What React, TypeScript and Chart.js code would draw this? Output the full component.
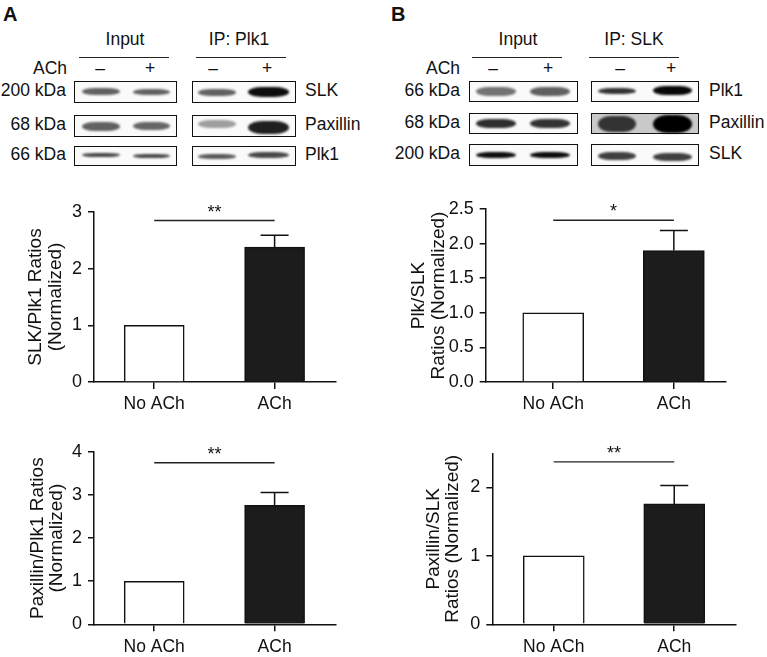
import React, { useEffect, useRef } from "react";
import { Chart, registerables } from "chart.js";

Chart.register(...registerables);

const FONT = "'Liberation Sans', Arial, Helvetica, sans-serif";
const INK = "#111";

// ---------------- data ----------------
const CATEGORIES = ["No ACh", "ACh"];

// A (top): SLK/Plk1
const A1_VALUES = [1, 2.38];
const A1_ERRORS = [0, 0.21];
const A1_TICKS = [0, 1, 2, 3];
const A1_SIG = 2.85;
const A1_STARS = "**";
const A1_TITLE = ["SLK/Plk1 Ratios", "(Normalized)"];

// A (bottom): Paxillin/Plk1
const A2_VALUES = [1, 2.76];
const A2_ERRORS = [0, 0.3];
const A2_TICKS = [0, 1, 2, 3, 4];
const A2_SIG = 3.75;
const A2_STARS = "**";
const A2_TITLE = ["Paxillin/Plk1 Ratios", "(Normalized)"];

// B (top): Plk/SLK
const B1_VALUES = [1, 1.9];
const B1_ERRORS = [0, 0.29];
const B1_TICKS = [0, 0.5, 1, 1.5, 2, 2.5];
const B1_SIG = 2.337;
const B1_STARS = "*";
const B1_TITLE = ["Plk/SLK", "Ratios (Normalized)"];

// B (bottom): Paxillin/SLK
const B2_VALUES = [1, 1.76];
const B2_ERRORS = [0, 0.27];
const B2_TICKS = [0, 1, 2];
const B2_SIG = 2.375;
const B2_STARS = "**";
const B2_TITLE = ["Paxillin/SLK", "Ratios (Normalized)"];

// Blots
const A_GROUPS = ["Input", "IP: Plk1"];
const A_SIGNS = ["–", "+", "–", "+"];
const A_MW = ["200 kDa", "68 kDa", "66 kDa"];
const A_PROTEINS = ["SLK", "Paxillin", "Plk1"];
const A_DARKNESS = [
  [0.62, 0.62, 0.62, 0.95],
  [0.62, 0.6, 0.38, 0.88],
  [0.72, 0.72, 0.66, 0.72],
];

const B_GROUPS = ["Input", "IP: SLK"];
const B_SIGNS = ["–", "+", "–", "+"];
const B_MW = ["66 kDa", "68 kDa", "200 kDa"];
const B_PROTEINS = ["Plk1", "Paxillin", "SLK"];
const B_DARKNESS = [
  [0.55, 0.62, 0.8, 0.97],
  [0.82, 0.8, 0.8, 1.0],
  [0.95, 0.95, 0.75, 0.75],
];

// ---------------- layout ----------------
type ChartSpec = {
  left: number; top: number; w: number; h: number;
  padTop: number; padRight: number; yAxisW: number; xAxisH: number;
  yMax: number; ticks: number[]; decimals: number;
  xMin: number; xMax: number; title: string[]; titlePad: number; barW: number;
  values: number[]; errors: number[]; sig: number; stars: string;
};

const CHARTS: ChartSpec[] = [
  { left: 0, top: 180, w: 380, h: 242, padTop: 32, padRight: 44, yAxisW: 94, xAxisH: 40,
    yMax: 3, ticks: A1_TICKS, decimals: 0, xMin: -0.5, xMax: 1.51, title: A1_TITLE, titlePad: 26, barW: 60,
    values: A1_VALUES, errors: A1_ERRORS, sig: A1_SIG, stars: A1_STARS },
  { left: 0, top: 425, w: 380, h: 231, padTop: 27, padRight: 44, yAxisW: 94, xAxisH: 31.7,
    yMax: 4, ticks: A2_TICKS, decimals: 0, xMin: -0.5, xMax: 1.51, title: A2_TITLE, titlePad: 27.3, barW: 60,
    values: A2_VALUES, errors: A2_ERRORS, sig: A2_SIG, stars: A2_STARS },
  { left: 385, top: 180, w: 382, h: 242, padTop: 29, padRight: 41.3, yAxisW: 100.7, xAxisH: 40,
    yMax: 2.5, ticks: B1_TICKS, decimals: 1, xMin: -0.56, xMax: 1.43, title: B1_TITLE, titlePad: 23.7, barW: 61,
    values: B1_VALUES, errors: B1_ERRORS, sig: B1_SIG, stars: B1_STARS },
  { left: 385, top: 425, w: 382, h: 231, padTop: 28.3, padRight: 31.3, yAxisW: 107.3, xAxisH: 31.7,
    yMax: 2.5, ticks: B2_TICKS, decimals: 0, xMin: -0.51, xMax: 1.51, title: B2_TITLE, titlePad: 38.3, barW: 61,
    values: B2_VALUES, errors: B2_ERRORS, sig: B2_SIG, stars: B2_STARS },
];

type BlotLayout = {
  letter: string; letterX: number;
  groupCenters: number[]; groupLines: [number, number][];
  achRight: number; signX: number[];
  boxes: [number, number][]; rows: [number, number][];
  lanes: [number, number][]; heights: number[][]; offsets: number[][];
  mwRight: number; protLeft: number;
  groups: string[]; signs: string[]; mw: string[]; proteins: string[]; dark: number[][];
  grayBox?: [number, number];
};

const BLOTS: BlotLayout[] = [
  {
    letter: "A", letterX: 3,
    groupCenters: [125, 239], groupLines: [[79, 169], [196, 286]],
    achRight: 67, signX: [100, 150, 213, 267],
    boxes: [[74, 177], [192, 296]],
    rows: [[81, 103], [115, 137], [146, 166]],
    lanes: [[82, 120], [133, 170], [198, 236], [248, 289]],
    heights: [[7, 6, 7, 10], [9, 8, 8, 13], [4, 4, 5, 6]],
    offsets: [[-1, 0, 0, 0], [0, 0, -2, 1], [-1, 0, 0, -1]],
    mwRight: 66, protLeft: 305,
    groups: A_GROUPS, signs: A_SIGNS, mw: A_MW, proteins: A_PROTEINS, dark: A_DARKNESS,
  },
  {
    letter: "B", letterX: 391,
    groupCenters: [518, 634], groupLines: [[472, 562], [589, 679]],
    achRight: 460, signX: [493, 548, 620, 671],
    boxes: [[469, 578], [591, 699]],
    rows: [[81, 102], [113, 134], [144, 166]],
    lanes: [[476, 516], [530, 570], [598, 636], [653, 692]],
    heights: [[9, 9, 6, 9], [9, 9, 16, 18], [6, 6, 8, 8]],
    offsets: [[0, 0, -1, -1], [0, 0, 0, 0], [0, 0, 1, 2]],
    mwRight: 460, protLeft: 709,
    groups: B_GROUPS, signs: B_SIGNS, mw: B_MW, proteins: B_PROTEINS, dark: B_DARKNESS,
    grayBox: [1, 1],
  },
];

// ---------------- plugin ----------------
const annotPlugin = {
  id: "annot",
  afterDatasetsDraw(chart: any, _args: any, opts: any) {
    const { ctx } = chart;
    const x = chart.scales.x;
    const y = chart.scales.y;
    const meta = chart.getDatasetMeta(0);
    ctx.save();
    ctx.strokeStyle = INK;
    ctx.lineWidth = 1.5;
    meta.data.forEach((bar: any, i: number) => {
      const e = opts.errors[i];
      if (!e) return;
      const v = opts.values[i];
      const yTop = y.getPixelForValue(v + e);
      const yB = y.getPixelForValue(v);
      ctx.beginPath();
      ctx.moveTo(bar.x, yB);
      ctx.lineTo(bar.x, yTop);
      ctx.moveTo(bar.x - 14, yTop);
      ctx.lineTo(bar.x + 14, yTop);
      ctx.stroke();
    });
    const ys = y.getPixelForValue(opts.sig);
    const x0 = x.getPixelForValue(0);
    const x1 = x.getPixelForValue(1);
    ctx.strokeStyle = "#222";
    ctx.lineWidth = 1.4;
    ctx.beginPath();
    ctx.moveTo(x0, ys);
    ctx.lineTo(x1, ys);
    ctx.stroke();
    ctx.fillStyle = INK;
    ctx.font = `18px ${FONT}`;
    ctx.textAlign = "center";
    ctx.textBaseline = "alphabetic";
    ctx.fillText(opts.stars, (x0 + x1) / 2, ys - 3);
    ctx.restore();
  },
};

function BarPanel({ spec }: { spec: ChartSpec }) {
  const ref = useRef<HTMLCanvasElement>(null);
  useEffect(() => {
    const chart = new Chart(ref.current as HTMLCanvasElement, {
      type: "bar",
      data: {
        datasets: [
          {
            data: CATEGORIES.map((_, i) => ({ x: i, y: spec.values[i] })),
            backgroundColor: ["#ffffff", "#1c1c1c"],
            borderColor: INK,
            borderWidth: 1.5,
            barThickness: spec.barW,
          } as any,
        ],
      },
      options: {
        responsive: false,
        animation: false,
        devicePixelRatio: 1,
        layout: { padding: { top: spec.padTop, right: spec.padRight, left: 0, bottom: 0 } },
        plugins: {
          legend: { display: false },
          tooltip: { enabled: false },
          annot: { values: spec.values, errors: spec.errors, sig: spec.sig, stars: spec.stars },
        } as any,
        scales: {
          x: {
            type: "linear",
            min: spec.xMin,
            max: spec.xMax,
            offset: false,
            afterBuildTicks: (s: any) => {
              s.ticks = CATEGORIES.map((_, i) => ({ value: i }));
            },
            afterFit: (s: any) => {
              s.height = spec.xAxisH;
            },
            grid: { display: true, offset: false, drawOnChartArea: false, drawTicks: true, tickLength: 7, color: INK, lineWidth: 1.5 },
            border: { display: true, color: INK, width: 1.5 },
            ticks: {
              autoSkip: false,
              maxRotation: 0,
              padding: 5,
              color: INK,
              font: { family: FONT, size: 17.5 },
              callback: (v: any) => CATEGORIES[Math.round(Number(v))] ?? "",
            },
          },
          y: {
            min: 0,
            max: spec.yMax,
            afterBuildTicks: (s: any) => {
              s.ticks = spec.ticks.map((v) => ({ value: v }));
            },
            afterFit: (s: any) => {
              s.width = spec.yAxisW;
            },
            grid: { display: true, drawOnChartArea: false, drawTicks: true, tickLength: 6, color: INK, lineWidth: 1.5 },
            border: { display: true, color: INK, width: 1.5 },
            ticks: {
              padding: 6,
              color: INK,
              font: { family: FONT, size: 18 },
              callback: (v: any) => Number(v).toFixed(spec.decimals),
            },
            title: {
              display: true,
              text: spec.title,
              color: INK,
              font: { family: FONT, size: 19, lineHeight: 1.05 },
              padding: { top: spec.titlePad, bottom: 0 },
            },
          },
        },
      } as any,
      plugins: [annotPlugin as any],
    });
    return () => chart.destroy();
  }, []);
  return (
    <canvas
      ref={ref}
      width={spec.w}
      height={spec.h}
      style={{ position: "absolute", left: spec.left, top: spec.top, width: spec.w, height: spec.h }}
    />
  );
}

function Txt({ x, y, text, align = "left", size = 17.5, bold = false }: any) {
  const tx = align === "center" ? "-50%" : align === "right" ? "-100%" : "0";
  return (
    <div
      style={{
        position: "absolute",
        left: x,
        top: y - size * 0.49,
        fontSize: size,
        lineHeight: `${size}px`,
        fontWeight: bold ? 700 : 400,
        whiteSpace: "nowrap",
        transform: `translateX(${tx})`,
        color: INK,
      }}
    >
      {text}
    </div>
  );
}

function Blot({ b }: { b: BlotLayout }) {
  const els: any[] = [];
  els.push(<Txt key="letter" x={b.letterX} y={14} text={b.letter} size={20} bold />);
  b.groups.forEach((g, i) => {
    els.push(<Txt key={"g" + i} x={b.groupCenters[i]} y={40} text={g} align="center" />);
    const [x1, x2] = b.groupLines[i];
    els.push(
      <div key={"gl" + i} style={{ position: "absolute", left: x1, top: 56.5, width: x2 - x1, height: 1.2, background: "#222" }} />
    );
  });
  els.push(<Txt key="ach" x={b.achRight} y={69} text="ACh" align="right" />);
  b.signs.forEach((s, i) => els.push(<Txt key={"s" + i} x={b.signX[i]} y={69} text={s} align="center" />));
  b.rows.forEach(([y1, y2], r) => {
    const yc = (y1 + y2) / 2;
    els.push(<Txt key={"mw" + r} x={b.mwRight} y={yc - 1} text={b.mw[r]} align="right" />);
    els.push(<Txt key={"pr" + r} x={b.protLeft} y={yc - 1} text={b.proteins[r]} />);
    b.boxes.forEach(([x1, x2], bi) => {
      const gray = b.grayBox && b.grayBox[0] === r && b.grayBox[1] === bi;
      els.push(
        <div
          key={`box${r}-${bi}`}
          style={{
            position: "absolute",
            left: x1,
            top: y1,
            width: x2 - x1,
            height: y2 - y1,
            boxSizing: "border-box",
            border: "1.5px solid #111",
            background: gray ? "#c9c9c9" : "#fafafa",
            overflow: "hidden",
          }}
        />
      );
    });
    b.lanes.forEach(([x1, x2], li) => {
      const d = b.dark[r][li];
      const c = Math.round(255 * (1 - d));
      const h = b.heights[r][li];
      const cy = yc + b.offsets[r][li];
      els.push(
        <div
          key={`band${r}-${li}`}
          style={{
            position: "absolute",
            left: x1,
            top: cy - h / 2,
            width: x2 - x1,
            height: h,
            background: `rgb(${c},${c},${c})`,
            borderRadius: "35% / 50%",
            filter: "blur(1.3px)",
          }}
        />
      );
    });
  });
  return <>{els}</>;
}

export default function App() {
  return (
    <div
      style={{
        position: "absolute",
        left: 0,
        top: 0,
        width: 767,
        height: 657,
        background: "#fff",
        fontFamily: FONT,
        overflow: "hidden",
      }}
    >
      {BLOTS.map((b, i) => (
        <Blot key={i} b={b} />
      ))}
      {CHARTS.map((c, i) => (
        <BarPanel key={i} spec={c} />
      ))}
    </div>
  );
}
